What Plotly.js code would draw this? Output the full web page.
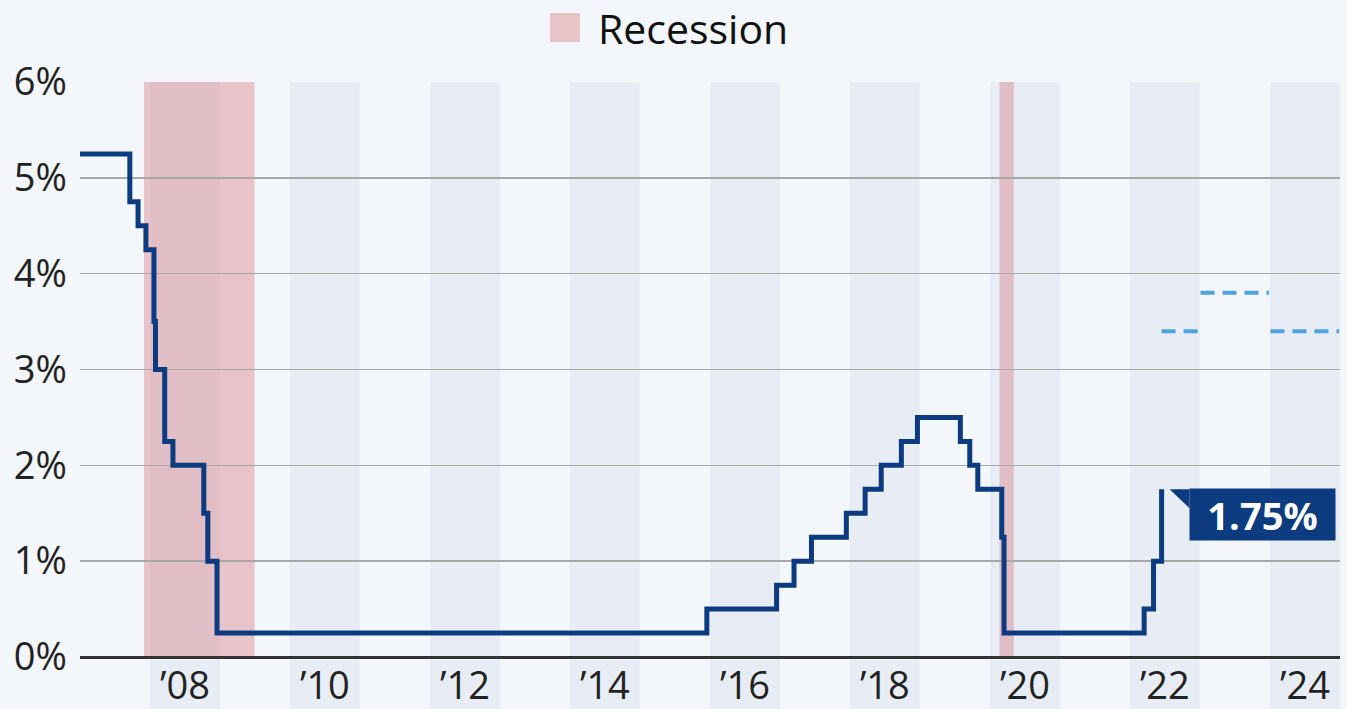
<!DOCTYPE html>
<html>
<head>
<meta charset="utf-8">
<script src="https://cdn.plot.ly/plotly-3.0.1.min.js"></script>
<style>
  html, body { margin: 0; padding: 0; background: #f3f6fa; }
  #chart { width: 1347px; height: 709px; }
</style>
</head>
<body>
<div id="chart"></div>
<script>
// Fed funds target rate (upper bound), change dates and levels
const rateDates = ['2006-06-29','2007-09-18','2007-10-31','2007-12-11','2008-01-22','2008-01-30','2008-03-18','2008-04-30','2008-10-08','2008-10-29','2008-12-16','2015-12-16','2016-12-14','2017-03-15','2017-06-14','2017-12-13','2018-03-21','2018-06-13','2018-09-26','2018-12-19','2019-07-31','2019-09-18','2019-10-30','2020-03-03','2020-03-15','2022-03-16','2022-05-04','2022-06-15'];
const rateValues = [5.25,4.75,4.5,4.25,3.5,3.0,2.25,2.0,1.5,1.0,0.25,0.5,0.75,1.0,1.25,1.5,1.75,2.0,2.25,2.5,2.25,2.0,1.75,1.25,0.25,0.5,1.0,1.75];

// Projections (year-end median)
const projYears = [2022, 2023, 2024];
const projValues = [3.4, 3.8, 3.4];

// Recessions
const recessionStarts = ['2007-12-01', '2020-02-20'];
const recessionEnds = ['2009-06-30', '2020-05-05'];

// Tick years (shaded alternate years)
const tickYears = [2008, 2010, 2012, 2014, 2016, 2018, 2020, 2022, 2024];
const tickLabels = ['’08', '’10', '’12', '’14', '’16', '’18', '’20', '’22', '’24'];

const lastDate = rateDates[rateDates.length - 1];
const lastValue = rateValues[rateValues.length - 1];

const projX = [], projY = [];
projYears.forEach((yr, i) => {
  const start = (i === 0) ? lastDate : yr + '-01-04';
  projX.push(start, yr + '-12-28', null);
  projY.push(projValues[i], projValues[i], null);
});

const NAVY = '#0d3b80';
const FONT = 'Open Sans, Noto Sans, sans-serif';

const shapes = [];
tickYears.forEach(yr => {
  shapes.push({
    type: 'rect', layer: 'below', xref: 'x', yref: 'paper',
    x0: yr + '-01-01', x1: yr + '-12-31', y0: -0.2, y1: 1,
    fillcolor: '#e8edf5', line: { width: 0 }
  });
});
recessionStarts.forEach((s, i) => {
  shapes.push({
    type: 'rect', layer: 'below', xref: 'x', yref: 'y domain',
    x0: s, x1: recessionEnds[i], y0: 0, y1: 1,
    fillcolor: 'rgba(215,120,128,0.4)', line: { width: 0 }
  });
});
// callout notch
shapes.push({
  type: 'path', layer: 'above', xref: 'x', yref: 'y',
  xsizemode: 'pixel', ysizemode: 'pixel',
  xanchor: lastDate, yanchor: lastValue,
  path: 'M8,0 L28,0 L28,-19 Z',
  fillcolor: NAVY, line: { width: 0 }
});
// legend swatch
shapes.push({
  type: 'rect', xref: 'paper', yref: 'paper', layer: 'above',
  x0: 470 / 1260, x1: 500 / 1260, y0: 1 + 40 / 575, y1: 1 + 69 / 575,
  fillcolor: '#e8c4c9', line: { width: 0 }
});

const traces = [
  {
    x: rateDates, y: rateValues, type: 'scatter', mode: 'lines',
    line: { shape: 'hv', color: NAVY, width: 5 },
    hoverinfo: 'skip', showlegend: false
  },
  {
    x: projX, y: projY, type: 'scatter', mode: 'lines',
    line: { color: '#4da3dd', width: 4, dash: '14px,8px' },
    connectgaps: false, hoverinfo: 'skip', showlegend: false
  }
];

const layout = {
  width: 1347, height: 709,
  margin: { l: 80, r: 7, t: 82, b: 52 },
  paper_bgcolor: '#f3f6fa', plot_bgcolor: 'rgba(0,0,0,0)',
  showlegend: false,
  font: { family: FONT, color: '#222' },
  xaxis: {
    type: 'date', range: ['2007-01-01', '2025-01-01'],
    tickmode: 'array',
    tickvals: tickYears.map(y => y + '-07-02'),
    ticktext: tickLabels,
    showgrid: false, zeroline: false, showline: false, ticks: '',
    tickfont: { size: 38, family: FONT, color: '#222' },
    ticklabelstandoff: 3,
    fixedrange: true
  },
  yaxis: {
    range: [0, 6], dtick: 1, tick0: 0, ticksuffix: '%',
    showgrid: true, gridcolor: '#a8a8a8', gridwidth: 1.5,
    zeroline: true, zerolinecolor: '#333', zerolinewidth: 3,
    showline: false, ticks: '',
    tickfont: { size: 38, family: FONT, color: '#222' },
    ticklabelstandoff: 12,
    fixedrange: true
  },
  shapes: shapes,
  annotations: [
    {
      x: lastDate, y: lastValue, xref: 'x', yref: 'y',
      xanchor: 'left', yanchor: 'top', xshift: 27, yshift: 1,
      text: '<b>' + lastValue + '%</b>', showarrow: false,
      bgcolor: NAVY, width: 141, height: 47, borderpad: 2, align: 'center',
      font: { size: 38, color: '#ffffff', family: FONT }
    },
    {
      xref: 'paper', yref: 'paper', x: 516 / 1260, y: 1 + 54 / 575,
      xanchor: 'left', yanchor: 'middle', showarrow: false,
      text: 'Recession',
      font: { size: 41, color: '#111', family: FONT }
    }
  ]
};

Plotly.newPlot('chart', traces, layout, { displayModeBar: false, staticPlot: true });
</script>
</body>
</html>
